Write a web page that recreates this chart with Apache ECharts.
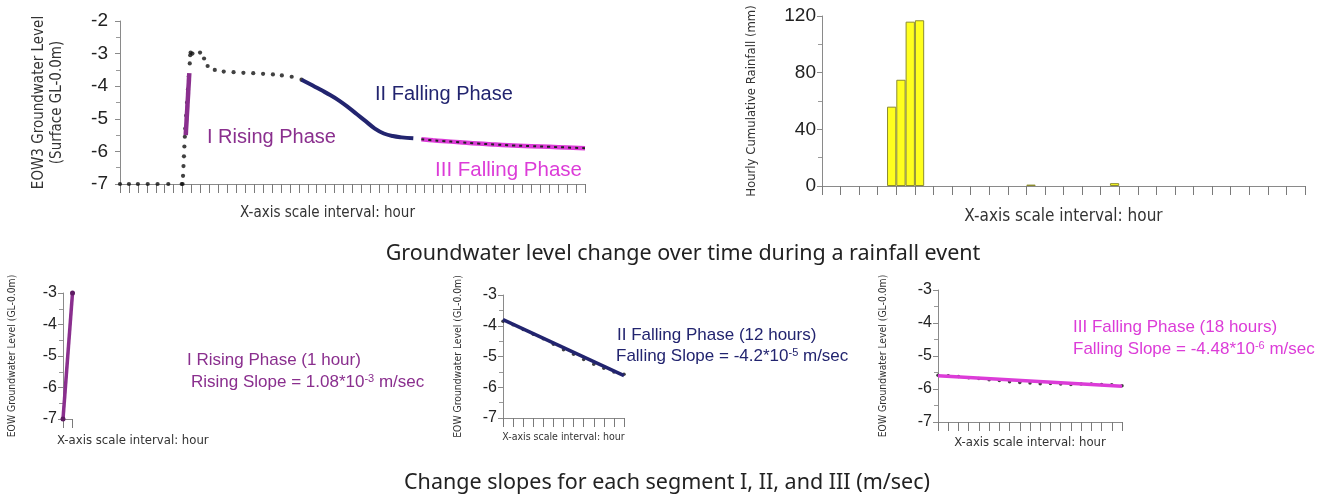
<!DOCTYPE html>
<html>
<head>
<meta charset="utf-8">
<script src="https://cdn.jsdelivr.net/npm/echarts@6/dist/echarts.min.js"></script>
<style>
html, body { margin: 0; padding: 0; background: #fff; }
#chart { width: 1335px; height: 495px; }
</style>
</head>
<body>
<div id="chart"></div>
<script>
// groundwater record before phase II (hourly dots + dense readings during the rise)
const obsHours  = [0, 1, 2, 3.1, 4.2, 5.4, 6.9, 7.0, 7.05, 7.1, 7.15, 7.2, 7.25, 7.3, 7.4, 7.5, 7.6, 7.7, 7.8, 7.85, 7.9, 8.1, 8.95, 9.4, 9.8, 10.6, 11.6, 12.7, 13.8, 14.9, 16.0, 17.1, 18.1, 19.2, 20.3];
const obsLevels = [-7, -7, -7, -7, -7, -7, -7, -7, -6.75, -6.45, -6.15, -5.85, -5.55, -5.3, -4.9, -4.5, -4.1, -3.7, -3.3, -3.05, -2.97, -3.0, -2.97, -3.15, -3.38, -3.5, -3.55, -3.57, -3.59, -3.6, -3.62, -3.64, -3.67, -3.71, -3.8];

// highlighted phases on the main record
const phaseIHours   = [7.35, 7.75];
const phaseILevels  = [-5.5, -3.6];
const phaseIIHours  = [20.3, 21.5, 22.5, 23.5, 24.5, 25.5, 26.5, 27.5, 28.5, 29.5, 30.5, 31.5, 32.8];
const phaseIILevels = [-3.8, -3.97, -4.12, -4.27, -4.44, -4.64, -4.86, -5.08, -5.3, -5.45, -5.53, -5.57, -5.6];
const phaseIIIHours  = [33.7, 35, 36, 38, 40, 42, 44, 46, 48, 50, 52];
const phaseIIILevels = [-5.63, -5.66, -5.68, -5.72, -5.76, -5.79, -5.82, -5.84, -5.86, -5.88, -5.9];

// hourly rainfall
const rainHours  = [7, 8, 9, 10, 22, 31];
const rainValues = [56, 75, 116, 117, 1, 2];
const totalHours = 52;

// segment fits
const segIHours = [0, 1];
const segILevels = [-7, -3];
const segIIDotLevels = [-3.85, -3.97, -4.12, -4.28, -4.42, -4.6, -4.78, -4.93, -5.1, -5.25, -5.38, -5.5, -5.58];
const segIIFitHours = [0, 12];
const segIIFitLevels = [-3.8, -5.62];
const segIIIDotLevels = [-5.58, -5.6, -5.62, -5.66, -5.68, -5.72, -5.74, -5.78, -5.8, -5.82, -5.84, -5.83, -5.85, -5.86, -5.85, -5.85, -5.86, -5.87, -5.9];
const segIIIFitHours = [0, 18];
const segIIIFitLevels = [-5.6, -5.92];

const PURPLE = '#8a2f8e';
const NAVY = '#22246f';
const MAGENTA = '#dc3cd8';
const SANS = '"Liberation Sans", Arial, sans-serif';
const NARROW = '"Liberation Sans Narrow", "DejaVu Sans Condensed", sans-serif';
const TITLE = '"Noto Sans", "Open Sans", sans-serif';

const zip = (xs, ys) => xs.map((x, i) => [x, ys[i]]);
const idx = arr => arr.map((v, i) => [i, v]);

const rainCats = [];
const rainData = [];
for (let h = 0; h < totalHours; h++) {
    rainCats.push(String(h + 1));
    const k = rainHours.indexOf(h);
    rainData.push(k >= 0 ? rainValues[k] : null);
}

const axisLine = { lineStyle: { color: '#8a8a8a', width: 1 } };

function levelAxis(grid, min, max, fontSize, margin, name, nameGap, nameSize) {
    return {
        type: 'value', gridIndex: grid, min: min, max: max, interval: 1,
        axisLine: { show: true, lineStyle: { color: '#8a8a8a' } },
        axisTick: { show: true, length: 5, lineStyle: { color: '#8a8a8a' } },
        minorTick: { show: true, splitNumber: 2, length: 4, lineStyle: { color: '#9a9a9a' } },
        splitLine: { show: false },
        axisLabel: { fontSize: fontSize, color: '#222', fontFamily: SANS, margin: margin },
        name: name, nameLocation: 'middle', nameRotate: 90, nameGap: nameGap,
        nameTextStyle: { fontSize: nameSize, color: '#333', fontFamily: NARROW, lineHeight: nameSize + 3 }
    };
}

function hourAxis(grid, max, nameSize, nameGap) {
    return {
        type: 'value', gridIndex: grid, min: 0, max: max, interval: 1,
        axisLine: axisLine,
        axisTick: { show: true, length: 9, lineStyle: { color: '#7a7a7a' } },
        axisLabel: { show: false },
        splitLine: { show: false },
        name: 'X-axis scale interval: hour', nameLocation: 'middle', nameGap: nameGap,
        nameTextStyle: { fontSize: nameSize, color: '#333', fontFamily: NARROW }
    };
}

function txt(x, y, text, color, size, align, family) {
    return {
        type: 'text', x: x, y: y,
        style: { text: text, fill: color, fontSize: size, fontFamily: family || SANS, align: align || 'left', verticalAlign: 'middle' }
    };
}

function supTxt(x, y, pre, sup, post, color) {
    return {
        type: 'text', x: x, y: y,
        style: {
            text: '{a|' + pre + '}{s|' + sup + '}{a|' + post + '}',
            verticalAlign: 'middle',
            rich: {
                a: { fontSize: 17, fill: color, color: color, fontFamily: SANS, verticalAlign: 'bottom' },
                s: { fontSize: 11, fill: color, color: color, fontFamily: SANS, verticalAlign: 'top' }
            }
        }
    };
}

const chart = echarts.init(document.getElementById('chart'));

const bottomLeftX = hourAxis(2, 1, 13, 14);
bottomLeftX.nameLocation = 'start';
bottomLeftX.nameGap = 6;
bottomLeftX.nameTextStyle = { fontSize: 13, color: '#333', fontFamily: NARROW, align: 'left', verticalAlign: 'top', padding: [15, 0, 0, 0] };

const topLeftX = hourAxis(0, totalHours, 15, 22);
topLeftX.nameTextStyle.padding = [0, 50, 0, 0];

const option = {
    backgroundColor: '#fff',
    animation: false,
    grid: [
        { left: 120, top: 21, width: 465, height: 163 },
        { left: 822, top: 16, width: 483, height: 170 },
        { left: 63, top: 293, width: 9.5, height: 126 },
        { left: 503, top: 295, width: 121, height: 123 },
        { left: 938, top: 290, width: 184, height: 132 }
    ],
    xAxis: [
        topLeftX,
        {
            type: 'category', gridIndex: 1, data: rainCats, boundaryGap: true,
            axisLine: axisLine,
            axisTick: { show: true, length: 9, alignWithLabel: false, lineStyle: { color: '#7a7a7a' } },
            axisLabel: { show: false },
            name: 'X-axis scale interval: hour', nameLocation: 'middle', nameGap: 22,
            nameTextStyle: { fontSize: 17, color: '#333', fontFamily: NARROW }
        },
        bottomLeftX,
        hourAxis(3, 12, 10.5, 14),
        hourAxis(4, 18, 13, 14)
    ],
    yAxis: [
        levelAxis(0, -7, -2, 19, 12, 'EOW3 Groundwater Level\n(Surface GL-0.0m)', 54, 15),
        {
            type: 'value', gridIndex: 1, min: 0, max: 120, interval: 40,
            axisLine: { show: true, lineStyle: { color: '#8a8a8a' } },
            axisTick: { show: true, length: 5, lineStyle: { color: '#8a8a8a' } },
            minorTick: { show: true, splitNumber: 2, length: 4, lineStyle: { color: '#9a9a9a' } },
            splitLine: { show: false },
            axisLabel: { fontSize: 19, color: '#222', fontFamily: SANS, margin: 6 },
            name: 'Hourly Cumulative Rainfall (mm)', nameLocation: 'middle', nameRotate: 90, nameGap: 64,
            nameTextStyle: { fontSize: 13, color: '#333', fontFamily: NARROW }
        },
        levelAxis(2, -7, -3, 16, 6, 'EOW Groundwater Level (GL-0.0m)', 44, 10.3),
        levelAxis(3, -7, -3, 16, 6, 'EOW Groundwater Level (GL-0.0m)', 38, 10.3),
        levelAxis(4, -7, -3, 16, 6, 'EOW Groundwater Level (GL-0.0m)', 48, 10.3)
    ],
    series: [
        {
            name: 'Groundwater level', type: 'scatter', xAxisIndex: 0, yAxisIndex: 0,
            data: zip(obsHours, obsLevels), symbolSize: 4.2, itemStyle: { color: '#111' }, z: 3
        },
        {
            name: 'I Rising Phase', type: 'line', xAxisIndex: 0, yAxisIndex: 0,
            data: zip(phaseIHours, phaseILevels), showSymbol: false,
            lineStyle: { color: PURPLE, width: 4.5 }, z: 4
        },
        {
            name: 'II Falling Phase', type: 'line', xAxisIndex: 0, yAxisIndex: 0, smooth: 0.4,
            data: zip(phaseIIHours, phaseIILevels), showSymbol: false,
            lineStyle: { color: NAVY, width: 4 }, z: 4
        },
        {
            name: 'III Falling Phase', type: 'line', xAxisIndex: 0, yAxisIndex: 0, smooth: 0.4,
            data: zip(phaseIIIHours, phaseIIILevels), showSymbol: false,
            lineStyle: { color: MAGENTA, width: 4.5 }, z: 4
        },
        {
            name: 'III record', type: 'line', xAxisIndex: 0, yAxisIndex: 0, smooth: 0.4,
            data: zip(phaseIIIHours, phaseIIILevels), showSymbol: false,
            lineStyle: { color: '#222', width: 2, type: [3, 4] }, z: 5
        },
        {
            name: 'Rainfall', type: 'bar', xAxisIndex: 1, yAxisIndex: 1,
            data: rainData, barCategoryGap: '0%',
            itemStyle: { color: '#ffff1e', borderColor: '#8c8c30', borderWidth: 1 }
        },
        {
            name: 'Segment I', type: 'line', xAxisIndex: 2, yAxisIndex: 2,
            data: zip(segIHours, segILevels), symbol: 'circle', symbolSize: 5,
            itemStyle: { color: '#5e1c63' }, lineStyle: { color: PURPLE, width: 3.5 }
        },
        {
            name: 'Segment II fit', type: 'line', xAxisIndex: 3, yAxisIndex: 3,
            data: zip(segIIFitHours, segIIFitLevels), showSymbol: false,
            lineStyle: { color: NAVY, width: 3.5 }
        },
        {
            name: 'Segment II', type: 'scatter', xAxisIndex: 3, yAxisIndex: 3,
            data: idx(segIIDotLevels), symbolSize: 3.5, itemStyle: { color: '#111' }
        },
        {
            name: 'Segment III fit', type: 'line', xAxisIndex: 4, yAxisIndex: 4,
            data: zip(segIIIFitHours, segIIIFitLevels), showSymbol: false,
            lineStyle: { color: MAGENTA, width: 3.5 }
        },
        {
            name: 'Segment III', type: 'scatter', xAxisIndex: 4, yAxisIndex: 4,
            data: idx(segIIIDotLevels), symbolSize: 3.5, itemStyle: { color: '#111' }
        }
    ],
    graphic: [
        txt(207, 137, 'I Rising Phase', PURPLE, 20),
        txt(375, 94, 'II Falling Phase', NAVY, 20),
        txt(435, 170, 'III Falling Phase', MAGENTA, 20.5),
        txt(683, 254, 'Groundwater level change over time during a rainfall event', '#222', 21.5, 'center', TITLE),
        txt(667, 483, 'Change slopes for each segment I, II, and III (m/sec)', '#222', 21.5, 'center', TITLE),
        txt(187, 360, 'I Rising Phase (1 hour)', PURPLE, 17),
        supTxt(191, 382, 'Rising Slope = 1.08*10', '-3', ' m/sec', PURPLE),
        txt(617, 335, 'II Falling Phase (12 hours)', NAVY, 17),
        supTxt(616, 356, 'Falling Slope = -4.2*10', '-5', ' m/sec', NAVY),
        txt(1073, 327, 'III Falling Phase (18 hours)', MAGENTA, 17),
        supTxt(1073, 349, 'Falling Slope = -4.48*10', '-6', ' m/sec', MAGENTA)
    ]
};

chart.setOption(option);
</script>
</body>
</html>
